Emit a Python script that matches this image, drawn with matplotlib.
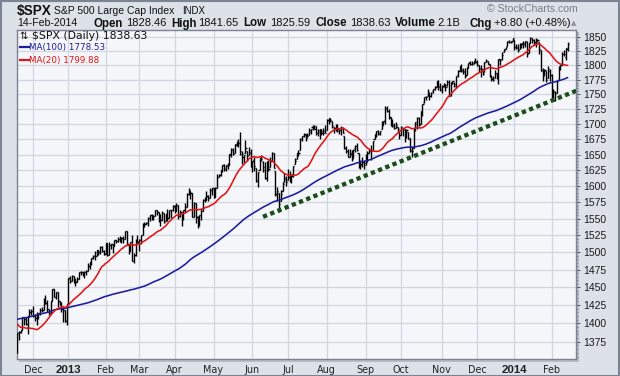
import numpy as np
import pandas as pd
import matplotlib
matplotlib.use("Agg")
import matplotlib.pyplot as plt
from matplotlib.collections import LineCollection
from matplotlib.ticker import FixedLocator, NullFormatter, FuncFormatter
from matplotlib.patches import Rectangle
from matplotlib.lines import Line2D

# ---------------- data ----------------
# closes before the visible window (22-Jun-2012 .. 16-Nov-2012), used only to warm up the moving averages
pre_closes = [
    1335.02, 1313.72, 1319.99, 1331.85, 1329.04, 1362.16,
    1365.51, 1374.02, 1367.58, 1354.68, 1352.46, 1341.47, 1341.45, 1334.76, 1356.78, 1353.64, 1363.67, 1372.78, 1376.51, 1362.66, 1350.52, 1338.31, 1337.89, 1360.02, 1385.97, 1385.30, 1379.32,
    1375.32, 1365.00, 1390.99, 1394.23, 1401.35, 1402.22, 1402.80, 1405.87, 1404.11, 1403.93, 1405.53, 1415.51, 1418.16, 1418.13, 1413.17, 1413.49, 1402.08, 1411.13, 1410.44, 1409.30, 1410.49, 1399.48, 1406.58,
    1404.94, 1403.44, 1432.12, 1437.92, 1429.08, 1433.56, 1436.56, 1459.99, 1465.77, 1461.19, 1459.32, 1461.05, 1460.26, 1460.15, 1456.89, 1441.59, 1433.32, 1447.15, 1440.67,
    1444.49, 1445.75, 1450.99, 1461.40, 1460.93, 1455.88, 1441.48, 1432.56, 1432.84, 1428.59, 1440.13, 1454.92, 1460.91, 1457.34, 1433.19, 1433.82, 1413.11, 1408.75, 1412.97, 1411.94, 1412.16,
    1427.59, 1414.20, 1417.26, 1428.39, 1394.53, 1377.51, 1379.85, 1380.03, 1374.53, 1355.49, 1353.33, 1359.88,
]

window_start = "2012-11-19"
window_end = "2014-02-14"
market_holidays = ["2012-11-22", "2012-12-25", "2013-01-01", "2013-01-21", "2013-02-18", "2013-03-29",
                   "2013-05-27", "2013-07-04", "2013-09-02", "2013-11-28", "2013-12-25", "2014-01-01",
                   "2014-01-20"]

opens = [
    1359.88, 1386.82, 1387.79, 1391.03, 1409.15, 1406.29, 1398.77, 1409.96, 1415.95,
    1416.34, 1409.46, 1407.05, 1409.43, 1413.95, 1418.07, 1418.55, 1427.84, 1428.48, 1419.45, 1413.54, 1430.47, 1446.79, 1435.81, 1443.67, 1430.15, 1426.66, 1419.83, 1418.10, 1402.43,
    1426.19, 1462.42, 1459.37, 1466.47, 1461.89, 1457.15, 1461.02, 1472.12, 1472.05, 1470.67, 1472.33, 1472.63, 1480.95, 1485.98, 1492.56, 1494.81, 1494.82, 1502.96, 1500.18, 1507.84, 1501.96,
    1498.11, 1513.17, 1495.71, 1511.29, 1512.12, 1509.39, 1517.93, 1517.01, 1519.43, 1520.33, 1521.38, 1519.79, 1530.94, 1511.95, 1502.42, 1515.60, 1487.85, 1496.94, 1515.99,
    1514.68, 1518.20, 1525.20, 1539.79, 1541.46, 1544.26, 1551.15, 1556.22, 1552.48, 1554.52, 1563.21, 1560.70, 1552.10, 1548.34, 1558.71, 1545.90, 1556.89, 1551.69, 1563.75, 1562.86,
    1569.18, 1562.17, 1570.25, 1553.69, 1559.98, 1553.26, 1563.11, 1568.61, 1587.73, 1593.30, 1588.84, 1552.36, 1574.57, 1552.03, 1541.61, 1555.25, 1562.50, 1578.78, 1578.78, 1585.16, 1582.34, 1593.58,
    1597.55, 1582.77, 1597.60, 1614.40, 1617.55, 1625.95, 1632.69, 1626.69, 1632.10, 1633.75, 1649.13, 1658.07, 1652.45, 1665.71, 1666.20, 1669.39, 1651.62, 1646.67, 1652.63, 1656.57, 1649.14, 1652.13,
    1631.71, 1640.73, 1629.05, 1609.29, 1625.27, 1644.67, 1638.64, 1629.94, 1612.15, 1635.52, 1630.64, 1639.77, 1651.83, 1624.62, 1588.62, 1588.77, 1577.52, 1592.27, 1606.44, 1611.12,
    1609.78, 1614.29, 1611.48, 1618.65, 1634.20, 1642.89, 1652.50, 1657.41, 1675.26, 1679.59, 1682.70, 1677.91, 1681.05, 1686.15, 1694.41, 1695.53, 1695.95, 1685.21, 1687.31, 1690.32, 1687.92, 1687.76,
    1689.42, 1706.10, 1708.01, 1705.79, 1695.30, 1693.35, 1696.10, 1688.37, 1690.65, 1693.88, 1679.61, 1661.22, 1655.25, 1646.81, 1650.66, 1645.03, 1659.92, 1664.29, 1652.54, 1630.25, 1633.50, 1638.89,
    1635.95, 1640.72, 1653.28, 1657.44, 1656.85, 1675.11, 1681.04, 1689.21, 1685.04, 1691.70, 1697.73, 1705.74, 1727.34, 1722.44, 1711.44, 1702.60, 1698.02, 1694.05, 1695.52, 1687.26,
    1682.41, 1691.90, 1692.35, 1678.79, 1687.15, 1676.22, 1656.99, 1660.88, 1691.09, 1699.86, 1709.17, 1700.49, 1720.17, 1736.72, 1745.20, 1746.48, 1752.27, 1747.48, 1756.01, 1759.42, 1762.93, 1772.27, 1763.24,
    1758.70, 1763.40, 1765.67, 1765.00, 1770.74, 1748.37, 1769.96, 1769.51, 1764.37, 1782.75, 1790.66, 1798.82, 1790.79, 1789.59, 1783.52, 1797.21, 1806.33, 1802.87, 1803.48, 1808.50,
    1806.55, 1800.10, 1794.15, 1792.82, 1788.36, 1806.21, 1807.60, 1802.76, 1781.71, 1777.98, 1777.48, 1786.47, 1781.46, 1809.00, 1810.39, 1822.92, 1828.02, 1834.96, 1842.97, 1841.47, 1842.61,
    1845.86, 1833.21, 1832.31, 1828.71, 1837.90, 1839.00, 1840.06, 1841.26, 1821.36, 1840.52, 1847.99, 1844.23, 1841.05, 1844.71, 1842.29, 1826.96, 1791.03, 1783.00, 1790.15, 1777.17, 1790.88,
    1782.68, 1743.82, 1753.38, 1752.99, 1776.01, 1796.20, 1800.45, 1820.12, 1814.82, 1828.46,
]

highs = [
    1386.89, 1389.77, 1391.25, 1409.16, 1409.15, 1409.01, 1410.31, 1419.70, 1418.86,
    1423.73, 1413.14, 1415.56, 1413.95, 1420.34, 1421.64, 1434.27, 1438.59, 1431.36, 1419.45, 1430.67, 1448.00, 1447.75, 1443.70, 1443.67, 1430.15, 1429.42, 1422.80, 1418.10, 1426.74,
    1462.43, 1465.47, 1467.94, 1466.47, 1461.89, 1464.73, 1472.30, 1472.75, 1472.05, 1473.31, 1473.96, 1485.16, 1485.98, 1492.56, 1496.13, 1502.27, 1503.26, 1503.23, 1509.35, 1509.94, 1504.19,
    1514.41, 1513.17, 1514.96, 1512.53, 1512.90, 1518.31, 1518.31, 1522.29, 1524.69, 1523.14, 1524.24, 1530.94, 1530.94, 1511.95, 1515.64, 1525.84, 1498.99, 1520.08, 1525.34,
    1519.99, 1525.27, 1543.47, 1545.25, 1545.78, 1552.48, 1556.27, 1556.77, 1556.39, 1563.32, 1563.62, 1560.70, 1557.25, 1561.56, 1558.71, 1557.74, 1564.91, 1563.95, 1564.07, 1570.28,
    1570.57, 1573.66, 1571.47, 1562.60, 1559.98, 1563.07, 1573.89, 1589.07, 1597.35, 1593.30, 1588.84, 1575.35, 1574.57, 1554.38, 1555.89, 1565.55, 1579.58, 1583.00, 1592.64, 1585.78, 1596.65, 1597.57,
    1597.55, 1598.60, 1618.46, 1619.77, 1626.03, 1632.78, 1635.01, 1633.70, 1636.00, 1651.10, 1661.49, 1660.51, 1667.47, 1672.84, 1674.93, 1687.18, 1655.50, 1649.78, 1674.21, 1656.57, 1661.91, 1658.99,
    1640.42, 1646.53, 1629.31, 1622.56, 1644.40, 1648.69, 1640.13, 1637.71, 1639.25, 1640.80, 1646.50, 1654.19, 1652.45, 1624.62, 1599.19, 1588.77, 1593.79, 1606.83, 1620.07, 1615.94,
    1626.61, 1624.26, 1618.97, 1632.07, 1644.68, 1652.53, 1657.92, 1676.63, 1680.19, 1684.51, 1683.73, 1684.75, 1693.12, 1692.09, 1697.61, 1698.78, 1697.19, 1690.94, 1691.85, 1690.92, 1693.19, 1698.43,
    1707.85, 1709.67, 1709.24, 1705.79, 1695.30, 1700.18, 1699.42, 1691.49, 1696.81, 1695.52, 1679.61, 1663.60, 1659.18, 1658.92, 1656.99, 1659.55, 1664.85, 1669.51, 1652.54, 1641.18, 1646.41, 1640.08,
    1651.35, 1655.72, 1659.17, 1664.83, 1672.40, 1684.09, 1689.13, 1689.97, 1688.73, 1704.95, 1705.52, 1729.44, 1729.86, 1725.23, 1711.44, 1707.63, 1701.71, 1703.85, 1695.52, 1687.26,
    1696.55, 1693.87, 1692.35, 1691.94, 1687.15, 1676.79, 1662.47, 1692.56, 1703.44, 1711.03, 1711.57, 1721.76, 1733.45, 1745.31, 1747.79, 1759.33, 1752.27, 1753.94, 1759.82, 1764.99, 1772.09, 1775.22, 1768.53,
    1765.67, 1768.78, 1767.03, 1773.74, 1774.54, 1770.78, 1773.44, 1771.78, 1782.00, 1791.53, 1798.22, 1802.33, 1795.51, 1795.73, 1797.16, 1804.84, 1808.10, 1808.42, 1808.27, 1813.55,
    1810.02, 1800.10, 1799.80, 1792.82, 1806.04, 1811.52, 1808.52, 1802.97, 1782.99, 1780.92, 1792.22, 1786.77, 1811.08, 1810.88, 1823.75, 1829.75, 1833.32, 1842.84, 1844.89, 1842.47, 1849.44,
    1845.86, 1838.24, 1837.16, 1840.10, 1840.02, 1843.23, 1843.15, 1843.45, 1839.26, 1850.84, 1847.99, 1846.04, 1849.31, 1846.87, 1842.29, 1826.96, 1795.98, 1793.87, 1790.15, 1798.77, 1793.88,
    1784.83, 1758.73, 1755.79, 1774.06, 1798.03, 1799.94, 1823.54, 1826.55, 1830.25, 1841.65,
]

lows = [
    1359.88, 1377.04, 1386.39, 1391.03, 1397.68, 1398.03, 1385.43, 1409.04, 1411.63,
    1408.46, 1403.65, 1398.23, 1405.93, 1410.90, 1415.64, 1418.55, 1426.76, 1416.00, 1411.88, 1413.54, 1430.47, 1435.80, 1432.82, 1422.58, 1424.66, 1414.75, 1401.80, 1401.58, 1398.11,
    1426.19, 1455.53, 1458.99, 1456.62, 1451.64, 1457.15, 1461.02, 1467.58, 1465.69, 1463.76, 1467.60, 1472.63, 1475.81, 1481.16, 1489.90, 1489.46, 1494.82, 1496.33, 1498.09, 1500.11, 1496.76,
    1498.11, 1495.02, 1495.71, 1504.71, 1498.49, 1509.39, 1513.61, 1515.61, 1515.93, 1514.02, 1514.14, 1519.79, 1511.41, 1497.29, 1502.42, 1487.85, 1485.01, 1494.88, 1514.46,
    1501.48, 1512.29, 1525.20, 1538.11, 1541.46, 1539.19, 1547.36, 1548.24, 1548.25, 1554.52, 1555.74, 1545.13, 1538.57, 1548.34, 1543.55, 1545.90, 1546.22, 1551.69, 1551.90, 1561.08,
    1558.47, 1562.17, 1549.80, 1552.52, 1539.50, 1548.63, 1560.92, 1568.61, 1586.17, 1579.97, 1552.28, 1552.36, 1543.69, 1536.03, 1539.40, 1548.19, 1562.50, 1575.80, 1578.78, 1577.56, 1582.34, 1586.50,
    1581.28, 1582.77, 1597.60, 1614.21, 1616.64, 1622.70, 1623.09, 1623.71, 1626.74, 1633.75, 1646.68, 1648.60, 1652.45, 1663.52, 1662.67, 1648.86, 1635.53, 1636.88, 1652.63, 1640.05, 1648.61, 1630.74,
    1622.72, 1623.62, 1607.09, 1598.23, 1625.27, 1639.26, 1622.92, 1610.92, 1608.07, 1623.96, 1630.34, 1639.77, 1628.91, 1584.32, 1577.70, 1560.33, 1577.09, 1592.27, 1606.44, 1601.06,
    1609.78, 1606.77, 1604.57, 1614.71, 1634.20, 1642.89, 1647.66, 1657.41, 1672.33, 1677.89, 1671.84, 1677.91, 1681.05, 1684.08, 1690.67, 1691.13, 1681.61, 1680.07, 1676.03, 1681.86, 1682.42, 1684.94,
    1689.42, 1700.68, 1703.55, 1693.29, 1684.91, 1688.38, 1686.02, 1683.35, 1682.62, 1684.83, 1658.59, 1652.61, 1645.84, 1646.08, 1639.43, 1645.03, 1654.81, 1656.02, 1629.05, 1627.47, 1630.88, 1627.47,
    1633.41, 1637.41, 1653.07, 1640.62, 1656.85, 1675.11, 1678.70, 1681.96, 1682.22, 1691.70, 1697.73, 1700.35, 1720.20, 1708.89, 1697.10, 1694.90, 1691.88, 1693.11, 1687.11, 1674.99,
    1682.07, 1680.34, 1670.36, 1677.33, 1674.70, 1655.03, 1646.47, 1660.88, 1688.52, 1692.13, 1695.93, 1700.49, 1714.12, 1735.74, 1740.67, 1746.48, 1740.50, 1745.50, 1752.45, 1757.67, 1762.93, 1757.24, 1755.72,
    1752.70, 1761.56, 1755.76, 1764.40, 1746.20, 1747.63, 1767.85, 1762.29, 1760.64, 1780.22, 1790.66, 1788.00, 1784.72, 1777.23, 1783.52, 1794.70, 1800.58, 1800.77, 1802.77, 1803.98,
    1798.60, 1787.85, 1779.09, 1783.38, 1788.36, 1806.21, 1801.75, 1780.09, 1772.28, 1772.45, 1777.48, 1777.05, 1767.99, 1801.35, 1810.25, 1822.92, 1828.02, 1834.96, 1839.81, 1838.77, 1842.41,
    1827.74, 1829.13, 1823.73, 1828.71, 1831.40, 1830.38, 1832.43, 1815.52, 1821.36, 1840.52, 1840.30, 1835.23, 1832.38, 1840.88, 1820.06, 1790.29, 1772.88, 1783.00, 1770.45, 1777.17, 1772.26,
    1739.66, 1743.82, 1737.92, 1752.99, 1776.01, 1791.83, 1800.41, 1815.97, 1809.22, 1825.59,
]

closes = [
    1386.89, 1387.81, 1391.03, 1409.15, 1406.29, 1398.94, 1409.93, 1415.95, 1416.18,
    1409.46, 1407.05, 1409.28, 1413.94, 1418.07, 1418.55, 1427.84, 1428.48, 1419.45, 1413.58, 1430.36, 1446.79, 1435.81, 1443.69, 1430.15, 1426.66, 1419.83, 1418.10, 1402.43, 1426.19,
    1462.42, 1459.37, 1466.47, 1461.89, 1457.15, 1461.02, 1472.12, 1472.05, 1470.68, 1472.34, 1472.63, 1480.94, 1485.98, 1492.56, 1494.81, 1494.82, 1502.96, 1500.18, 1507.84, 1501.96, 1498.11,
    1513.17, 1495.71, 1511.29, 1512.12, 1509.39, 1517.93, 1517.01, 1519.43, 1520.33, 1521.38, 1519.79, 1530.94, 1511.95, 1502.42, 1515.60, 1487.85, 1496.94, 1515.99, 1514.68,
    1518.20, 1525.20, 1539.79, 1541.46, 1544.26, 1551.18, 1556.22, 1552.48, 1554.52, 1563.23, 1560.70, 1552.10, 1548.34, 1558.71, 1545.80, 1556.89, 1551.69, 1563.77, 1562.85, 1569.19,
    1562.17, 1570.25, 1553.69, 1559.98, 1553.28, 1563.07, 1568.61, 1587.73, 1593.37, 1588.85, 1552.36, 1574.57, 1552.01, 1541.61, 1555.25, 1562.50, 1578.78, 1578.79, 1585.16, 1582.24, 1593.61, 1597.57,
    1582.70, 1597.59, 1614.42, 1617.50, 1625.96, 1632.69, 1626.67, 1633.70, 1633.77, 1650.34, 1658.78, 1650.47, 1667.47, 1666.29, 1669.16, 1655.35, 1650.51, 1649.60, 1660.06, 1648.36, 1654.41, 1630.74,
    1640.42, 1631.38, 1608.90, 1622.56, 1643.38, 1642.81, 1626.13, 1612.52, 1636.36, 1626.73, 1639.04, 1651.81, 1628.93, 1588.19, 1592.43, 1573.09, 1588.03, 1603.26, 1613.20, 1606.28,
    1614.96, 1614.08, 1615.41, 1631.89, 1640.46, 1652.32, 1652.62, 1675.02, 1680.19, 1682.50, 1676.26, 1680.91, 1689.37, 1692.09, 1695.53, 1692.39, 1685.94, 1690.25, 1691.65, 1685.33, 1685.96, 1685.73,
    1706.87, 1709.67, 1707.14, 1697.37, 1690.91, 1697.48, 1691.42, 1689.47, 1694.16, 1685.39, 1661.32, 1655.83, 1646.06, 1652.35, 1642.80, 1656.96, 1663.50, 1656.78, 1630.48, 1634.96, 1638.17, 1632.97,
    1639.77, 1653.08, 1655.08, 1655.17, 1671.71, 1683.99, 1689.13, 1683.42, 1687.99, 1697.60, 1704.76, 1725.52, 1722.34, 1709.91, 1701.84, 1697.42, 1692.77, 1698.67, 1691.75, 1681.55,
    1695.00, 1693.87, 1678.66, 1690.50, 1676.12, 1655.45, 1656.40, 1692.56, 1703.20, 1710.14, 1698.06, 1721.54, 1733.15, 1744.50, 1744.66, 1754.67, 1746.38, 1752.07, 1759.77, 1762.11, 1771.95, 1763.31, 1756.54,
    1761.64, 1767.93, 1762.97, 1770.49, 1747.15, 1770.61, 1771.89, 1767.69, 1782.00, 1790.62, 1798.18, 1791.53, 1787.87, 1781.37, 1795.85, 1804.76, 1802.48, 1802.75, 1807.23, 1805.81,
    1800.90, 1795.15, 1792.81, 1785.03, 1805.09, 1808.37, 1802.62, 1782.22, 1775.50, 1775.32, 1786.54, 1781.00, 1810.65, 1809.60, 1818.32, 1827.99, 1833.32, 1842.02, 1841.40, 1841.07, 1848.36,
    1831.98, 1831.37, 1826.77, 1837.88, 1837.49, 1838.13, 1842.37, 1819.20, 1838.88, 1848.38, 1845.89, 1838.70, 1843.80, 1844.86, 1828.46, 1790.29, 1781.56, 1792.50, 1774.20, 1794.19, 1782.59,
    1741.89, 1755.20, 1751.64, 1773.43, 1797.02, 1799.84, 1819.75, 1819.26, 1829.83, 1838.63,
]

# dotted support trend line (bar index, price)
trend_idx = [139, 316]
trend_val = [1553, 1756]

y_ticks = list(range(1375, 1851, 25))
header_vals = {"Open": "1828.46", "High": "1841.65", "Low": "1825.59", "Close": "1838.63",
               "Volume": "2.1B", "Chg": "+8.80 (+0.48%)"}

# ---------------- derived ----------------
dates = pd.bdate_range(window_start, window_end, freq="C", holidays=market_holidays)
n = len(closes)
assert len(opens) == n and len(highs) == n and len(lows) == n and len(dates) == n, (len(opens), len(highs), len(lows), n, len(dates))

all_closes = pd.Series(pre_closes + closes)
ma100 = all_closes.rolling(100).mean().values[-n:]
ma20 = all_closes.rolling(20).mean().values[-n:]
x = np.arange(n)
o = np.array(opens); h = np.array(highs); l = np.array(lows); c = np.array(closes)

# ---------------- figure ----------------
W, H = 620, 376
fig = plt.figure(figsize=(W / 100, H / 100), dpi=100)
fig.patch.set_facecolor("#dde1e8")

L, R, T, B = 16.5, 576, 29.5, 359
ax = fig.add_axes([L / W, 1 - B / H, (R - L) / W, (B - T) / H])
ax.set_facecolor("#f5f6fa")

# shadow behind the plot frame
fig.patches.append(Rectangle(((L + 2) / W, 1 - (B + 3) / H), (R - L + 1) / W, (B - T) / H,
                             transform=fig.transFigure, facecolor="#b9bdc7", edgecolor="none", zorder=-5))
# outer border
fig.patches.append(Rectangle((0.5 / W, 0.5 / H), (W - 1.5) / W, (H - 1.5) / H, transform=fig.transFigure,
                             fill=False, edgecolor="#7d8491", lw=1.5, zorder=10))

ax.set_yscale("log")
ax.set_xlim(-0.3, 315.8)
ax.set_ylim(1352, 1864)

# grid
month_start = []
month_lab = []
for i in range(1, n):
    if dates[i].month != dates[i - 1].month:
        month_start.append(i)
        month_lab.append(str(dates[i].year) if dates[i].month == 1 else dates[i].strftime("%b"))
for m in month_start:
    ax.axvline(m, color="#d2d6de", lw=0.9, zorder=0)
for yv in y_ticks:
    ax.axhline(yv, color="#d2d6de", lw=0.9, zorder=0)

# OHLC bars
segs = np.zeros((n * 3, 2, 2))
segs[0::3, 0, 0] = x; segs[0::3, 1, 0] = x
segs[0::3, 0, 1] = l; segs[0::3, 1, 1] = h
segs[1::3, 0, 0] = x - 0.65; segs[1::3, 1, 0] = x
segs[1::3, 0, 1] = o; segs[1::3, 1, 1] = o
segs[2::3, 0, 0] = x; segs[2::3, 1, 0] = x + 0.65
segs[2::3, 0, 1] = c; segs[2::3, 1, 1] = c
ax.add_collection(LineCollection(segs, colors="black", linewidths=1.0, zorder=3))

# moving averages
ax.plot(x, ma100, color="#1c1c9e", lw=1.15, zorder=4)
ax.plot(x, ma20, color="#e01515", lw=1.15, zorder=4)

# trend line
ax.plot(trend_idx, trend_val, color="#1a4d1a", lw=3.1, linestyle=(0, (1.0, 0.8)),
        dash_capstyle="butt", zorder=5, clip_on=True)

# axes styling
for s in ax.spines.values():
    s.set_color("#7d8290")
    s.set_linewidth(1.0)
ax.yaxis.tick_right()
ax.yaxis.set_major_locator(FixedLocator(y_ticks))
ax.yaxis.set_major_formatter(FuncFormatter(lambda v, p: f"{v:.0f}"))
ax.yaxis.set_minor_locator(FixedLocator(list(range(1355, 1865, 5))))
ax.yaxis.set_minor_formatter(NullFormatter())
ax.tick_params(axis="y", which="major", length=3, width=0.7, color="#555b66", pad=2,
               labelsize=7.5, labelcolor="#1a1a1a")
ax.tick_params(axis="y", which="minor", length=1.5, width=0.6, color="#777d88")
for t in ax.get_yticklabels():
    t.set_fontfamily("Liberation Sans")

ax.set_xticks(month_start)
ax.set_xticklabels(month_lab)
ax.tick_params(axis="x", length=0, pad=4.5, labelcolor="#222222")
for t, lab in zip(ax.get_xticklabels(), month_lab):
    if lab.isdigit():
        t.set_fontfamily("Liberation Sans"); t.set_fontweight("bold"); t.set_fontsize(8.2)
    else:
        t.set_fontfamily("DejaVu Sans"); t.set_fontsize(6.9)


def ftxt(xp, yp, s, **kw):
    kw.setdefault("va", "baseline")
    kw.setdefault("ha", "left")
    return fig.text(xp / W, 1 - yp / H, s, **kw)


# header
ftxt(17, 15.5, "$SPX", family="Liberation Sans", weight="bold", fontsize=9.8, color="#111111")
ftxt(54, 14.5, "S&P 500 Large Cap Index", family="Liberation Sans", fontsize=7.5, color="#111111")
ftxt(182, 14.5, "INDX", family="Liberation Sans", fontsize=6.9, color="#111111")
ftxt(17, 26.5, "14-Feb-2014", family="Liberation Sans", fontsize=7.6, color="#111111")
pos = [("Open", 94, 126), ("High", 171, 198), ("Low", 243, 270), ("Close", 315, 350),
       ("Volume", 395, 437), ("Chg", 469, 494)]
for key, xl, xv in pos:
    ftxt(xl, 26.5, key, family="Liberation Sans", weight="bold", fontsize=8.3, color="#111111")
    ftxt(xv, 26.5, header_vals[key], family="Liberation Sans", fontsize=8.0, color="#111111")
ftxt(573.5, 25.5, "▲", family="DejaVu Sans", fontsize=5, color="#8c939e", ha="center")
ftxt(487, 12.5, "© StockCharts.com", family="Liberation Sans", fontsize=7.6, color="#7a7f88")

# in-chart legend
ftxt(19, 38.5, "⇅", family="DejaVu Sans", fontsize=7.2, color="#111111")
ftxt(32, 38.7, f"$SPX (Daily) {closes[-1]:.2f}", family="DejaVu Sans", fontsize=7.8, color="#111111")
fig.add_artist(Line2D([20 / W, 28.5 / W], [1 - 47 / H, 1 - 47 / H], color="#1c1c9e", lw=1.6))
ftxt(29.5, 50.3, f"MA(100) {ma100[-1]:.2f}", family="DejaVu Sans", fontsize=6.3, color="#1c1c9e")
fig.add_artist(Line2D([20 / W, 28.5 / W], [1 - 59.5 / H, 1 - 59.5 / H], color="#e01515", lw=1.6))
ftxt(29.5, 62.8, f"MA(20) {ma20[-1]:.2f}", family="DejaVu Sans", fontsize=6.3, color="#e01515")

fig.savefig("out.png", dpi=100, facecolor=fig.get_facecolor())
